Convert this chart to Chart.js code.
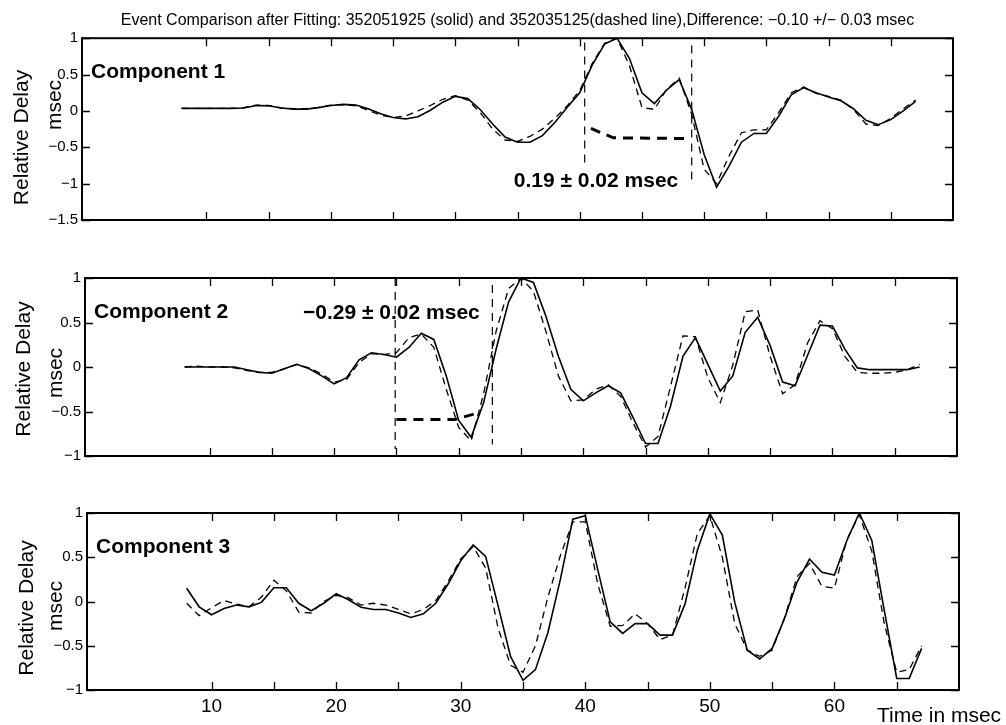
<!DOCTYPE html>
<html>
<head>
<meta charset="utf-8">
<title>Event Comparison after Fitting</title>
<script src="https://cdn.jsdelivr.net/npm/chart.js@4.4.1/dist/chart.umd.min.js"></script>
<style>
  body { margin: 0; background: #fff; }
  #wrap { position: relative; width: 1006px; height: 725px; background: #fff; }
  canvas { position: absolute; left: 0; }
</style>
</head>
<body>
<div id="wrap">
  <canvas id="comp1" width="1006" height="240" style="top:0"></canvas>
  <canvas id="comp2" width="1006" height="235" style="top:240px"></canvas>
  <canvas id="comp3" width="1006" height="250" style="top:475px"></canvas>
</div>
<script>
// sample times (msec) shared by all traces
const timeMs = [8, 9, 10, 11, 12, 13, 14, 15, 16, 17, 18, 19, 20, 21, 22, 23, 24, 25, 26, 27,
  28, 29, 30, 31, 32, 33, 34, 35, 36, 37, 38, 39, 40, 41, 42, 43, 44, 45, 46, 47,
  48, 49, 50, 51, 52, 53, 54, 55, 56, 57, 58, 59, 60, 61, 62, 63, 64, 65, 66, 67];

// Component 1: event 352051925 (solid) and 352035125 (dashed)
const comp1Solid = [0.035, 0.035, 0.035, 0.035, 0.035, 0.04, 0.075, 0.07, 0.04, 0.025,
  0.025, 0.045, 0.075, 0.09, 0.08, 0.03, -0.04, -0.09, -0.11, -0.08,
  0.01, 0.12, 0.2, 0.17, 0.02, -0.18, -0.36, -0.43, -0.43, -0.34,
  -0.16, 0.05, 0.25, 0.63, 0.92, 1.0, 0.72, 0.25, 0.1, 0.29,
  0.43, 0.02, -0.6, -1.05, -0.76, -0.43, -0.31, -0.31, -0.07, 0.22,
  0.32, 0.25, 0.19, 0.14, 0.03, -0.13, -0.19, -0.12, 0.0, 0.13];
const comp1Dashed = [0.035, 0.035, 0.035, 0.035, 0.035, 0.045, 0.08, 0.075, 0.04, 0.03,
  0.03, 0.05, 0.08, 0.085, 0.07, 0.01, -0.06, -0.09, -0.07, 0.0,
  0.075, 0.16, 0.21, 0.15, -0.02, -0.25, -0.4, -0.42, -0.35, -0.25,
  -0.1, 0.07, 0.28, 0.65, 0.93, 1.0, 0.62, 0.05, 0.02, 0.3,
  0.45, -0.05, -0.8, -1.0, -0.62, -0.3, -0.26, -0.26, -0.02, 0.25,
  0.33, 0.24, 0.2, 0.15, 0.02, -0.18, -0.2, -0.1, 0.03, 0.15];

// Component 2
const comp2Solid = [0, 0, 0, 0, 0, -0.03, -0.06, -0.07, -0.02, 0.03,
  -0.02, -0.1, -0.19, -0.12, 0.08, 0.16, 0.14, 0.11, 0.22, 0.38,
  0.31, -0.1, -0.6, -0.79, -0.4, 0.2, 0.73, 1.0, 0.95, 0.57,
  0.12, -0.25, -0.38, -0.29, -0.21, -0.29, -0.57, -0.86, -0.86, -0.44,
  0.12, 0.33, 0.03, -0.27, -0.1, 0.39, 0.56, 0.24, -0.17, -0.21,
  0.13, 0.47, 0.46, 0.2, -0.01, -0.03, -0.03, -0.03, -0.03, 0.0];
const comp2Dashed = [0, 0.01, 0, 0, -0.01, -0.04, -0.06, -0.06, -0.02, 0.03,
  -0.01, -0.08, -0.17, -0.14, 0.05, 0.15, 0.14, 0.16, 0.33, 0.37,
  0.22, -0.25, -0.68, -0.83, -0.3, 0.4, 0.88, 1.0, 0.85, 0.4,
  -0.1, -0.38, -0.37, -0.25, -0.2, -0.33, -0.63, -0.9, -0.78, -0.22,
  0.35, 0.34, -0.12, -0.4, 0.02, 0.62, 0.64, 0.12, -0.3, -0.2,
  0.27, 0.52, 0.43, 0.12, -0.06, -0.07, -0.07, -0.06, -0.03, 0.03];

// Component 3
const comp3Solid = [0.15, -0.06, -0.15, -0.08, -0.04, -0.06, -0.01, 0.155, 0.155, -0.02,
  -0.105, -0.02, 0.087, 0.02, -0.065, -0.09, -0.09, -0.13, -0.18, -0.14,
  -0.02, 0.2, 0.46, 0.64, 0.51, -0.05, -0.62, -0.89, -0.77, -0.35,
  0.25, 0.93, 0.97, 0.36, -0.23, -0.36, -0.25, -0.25, -0.38, -0.38,
  -0.03, 0.58, 0.99, 0.75, -0.01, -0.55, -0.65, -0.53, -0.19, 0.22,
  0.48, 0.33, 0.3, 0.69, 1.0, 0.69, -0.1, -0.87, -0.87, -0.53];
const comp3Dashed = [-0.02, -0.16, -0.07, 0.01, -0.03, -0.06, 0.05, 0.24, 0.12, -0.12,
  -0.13, 0.0, 0.07, 0.04, -0.04, -0.02, -0.04, -0.09, -0.14, -0.09,
  0.01, 0.23, 0.48, 0.62, 0.38, -0.3, -0.72, -0.8, -0.5, 0.05,
  0.52, 0.9, 0.9, 0.2, -0.28, -0.27, -0.14, -0.25, -0.43, -0.38,
  0.15, 0.77, 0.97, 0.5, -0.25, -0.55, -0.62, -0.55, -0.18, 0.28,
  0.43, 0.17, 0.15, 0.7, 0.98, 0.57, -0.25, -0.8, -0.77, -0.5];

// x tick marks (labels only on the bottom panel, every 10 msec)
const xTickValues = [10, 15, 20, 25, 30, 35, 40, 45, 50, 55, 60, 65];

// fitting windows and lag curves
const c1WindowTimes = [40.4, 49.0];
const c1WindowTop = [0.94, 0.9];
const c1WindowBottom = [-0.76, -0.98];
const c1LagTimes = [40.9, 42.7, 48.8];
const c1LagValues = [-0.24, -0.37, -0.38];

const c2WindowTimes = [24.9, 32.7];
const c2WindowTop = [1.0, 0.92];
const c2WindowBottom = [-0.92, -0.87];
const c2LagTimes = [25.0, 29.7, 31.7];
const c2LagValues = [-0.59, -0.59, -0.51];

const FONT = '"Liberation Sans", Arial, Helvetica, sans-serif';
Chart.defaults.font.family = FONT;
Chart.defaults.color = '#000';

const toPoints = (ts, vs) => ts.map((t, i) => ({ x: t, y: vs[i] }));
const minus = v => String(v).replace('-', '\u2212');

// frame, inward tick marks and the panel texts
function panelDecor(cfg) {
    return {
        id: 'panelDecor',
        afterDraw(chart) {
            const { ctx, chartArea: a, scales: { x, y } } = chart;
            ctx.save();
            ctx.strokeStyle = '#000';
            ctx.lineWidth = 1.3;
            ctx.beginPath();
            xTickValues.forEach(v => {
                const px = Math.round(x.getPixelForValue(v)) + 0.5;
                ctx.moveTo(px, a.top); ctx.lineTo(px, a.top + 8);
                ctx.moveTo(px, a.bottom); ctx.lineTo(px, a.bottom - 8);
            });
            y.ticks.forEach(t => {
                const py = Math.round(y.getPixelForValue(t.value)) + 0.5;
                ctx.moveTo(a.left, py); ctx.lineTo(a.left + 8, py);
                ctx.moveTo(a.right, py); ctx.lineTo(a.right - 8, py);
            });
            ctx.stroke();
            ctx.lineWidth = 2;
            ctx.strokeRect(a.left, a.top, a.right - a.left, a.bottom - a.top);

            ctx.fillStyle = '#000';
            ctx.textAlign = 'left';
            ctx.textBaseline = 'alphabetic';
            ctx.font = 'bold 21px ' + FONT;
            ctx.fillText(cfg.label, a.left + 9, a.top + 40);
            if (cfg.note) {
                ctx.fillText(cfg.note.text, x.getPixelForValue(cfg.note.t), y.getPixelForValue(cfg.note.v));
            }

            ctx.font = '21px ' + FONT;
            ctx.textAlign = 'center';
            ctx.textBaseline = 'middle';
            [['Relative Delay', cfg.yTitleAt[0]], ['msec', cfg.yTitleAt[1]]].forEach(([txt, p]) => {
                ctx.save();
                ctx.translate(p[0], p[1]);
                ctx.rotate(-Math.PI / 2);
                ctx.fillText(txt, 0, 0);
                ctx.restore();
            });

            if (cfg.xTitle) {
                ctx.textAlign = 'left';
                ctx.textBaseline = 'alphabetic';
                ctx.fillText(cfg.xTitle, 877, 247);
            }
            ctx.restore();
        }
    };
}

function makePanel(canvasId, cfg) {
    const datasets = [
        { data: toPoints(timeMs, cfg.solid), borderWidth: 1.6 },
        { data: toPoints(timeMs, cfg.dashed), borderWidth: 1.3, borderDash: [7, 5] }
    ];
    if (cfg.windowTimes) {
        cfg.windowTimes.forEach((t, i) => {
            datasets.push({
                data: [{ x: t, y: cfg.windowTop[i] }, { x: t, y: cfg.windowBottom[i] }],
                borderWidth: 1.2, borderDash: [8, 6]
            });
        });
        datasets.push({ data: toPoints(cfg.lagTimes, cfg.lagValues), borderWidth: 3, borderDash: [10, 7] });
    }
    datasets.forEach(d => {
        d.borderColor = '#000';
        d.pointRadius = 0;
        d.fill = false;
        d.tension = 0;
    });

    return new Chart(document.getElementById(canvasId), {
        type: 'line',
        data: { datasets },
        plugins: [panelDecor(cfg)],
        options: {
            responsive: false,
            animation: false,
            devicePixelRatio: 1,
            layout: { padding: cfg.padding },
            plugins: {
                legend: { display: false },
                tooltip: { enabled: false },
                title: cfg.title ? {
                    display: true,
                    text: cfg.title,
                    fullSize: false,
                    font: { size: 16, weight: 'normal' },
                    padding: { top: 11, bottom: 8 }
                } : { display: false }
            },
            scales: {
                x: {
                    type: 'linear',
                    min: 0,
                    max: 70,
                    display: !!cfg.xLabels,
                    grid: { display: false, drawTicks: false },
                    border: { display: false },
                    afterBuildTicks: s => { s.ticks = xTickValues.map(v => ({ value: v })); },
                    afterFit: s => { if (cfg.xLabels) s.height = 35; },
                    ticks: {
                        autoSkip: false,
                        maxRotation: 0,
                        padding: 5,
                        font: { size: 19 },
                        callback: v => (v % 10 === 0 ? String(v) : '')
                    }
                },
                y: {
                    min: cfg.yMin,
                    max: cfg.yMax,
                    grid: { display: false, drawTicks: false },
                    border: { display: false },
                    afterFit: s => { s.width = cfg.left; },
                    ticks: {
                        stepSize: 0.5,
                        padding: 4,
                        font: { size: 15 },
                        callback: v => minus(v)
                    }
                }
            }
        }
    });
}

makePanel('comp1', {
    title: 'Event Comparison after Fitting: 352051925 (solid) and 352035125(dashed line),Difference: \u22120.10 +/\u2212 0.03 msec',
    label: 'Component 1',
    solid: comp1Solid, dashed: comp1Dashed,
    windowTimes: c1WindowTimes, windowTop: c1WindowTop, windowBottom: c1WindowBottom,
    lagTimes: c1LagTimes, lagValues: c1LagValues,
    note: { text: '0.19 \u00b1 0.02 msec', t: 34.7, v: -1.05 },
    yMin: -1.5, yMax: 1,
    left: 82,
    padding: { left: 0, right: 53, top: 0, bottom: 20 },
    yTitleAt: [[22.5, 137.5], [55, 105]]
});

makePanel('comp2', {
    label: 'Component 2',
    solid: comp2Solid, dashed: comp2Dashed,
    windowTimes: c2WindowTimes, windowTop: c2WindowTop, windowBottom: c2WindowBottom,
    lagTimes: c2LagTimes, lagValues: c2LagValues,
    note: { text: '\u22120.29 \u00b1 0.02 msec', t: 17.5, v: 0.54 },
    yMin: -1, yMax: 1,
    left: 85,
    padding: { left: 0, right: 49, top: 38, bottom: 19 },
    yTitleAt: [[24, 129], [56, 133]]
});

makePanel('comp3', {
    label: 'Component 3',
    solid: comp3Solid, dashed: comp3Dashed,
    xLabels: true,
    xTitle: 'Time in msec',
    yMin: -1, yMax: 1,
    left: 87,
    padding: { left: 0, right: 47, top: 38, bottom: 0 },
    yTitleAt: [[27, 133], [56, 131]]
});
</script>
</body>
</html>
